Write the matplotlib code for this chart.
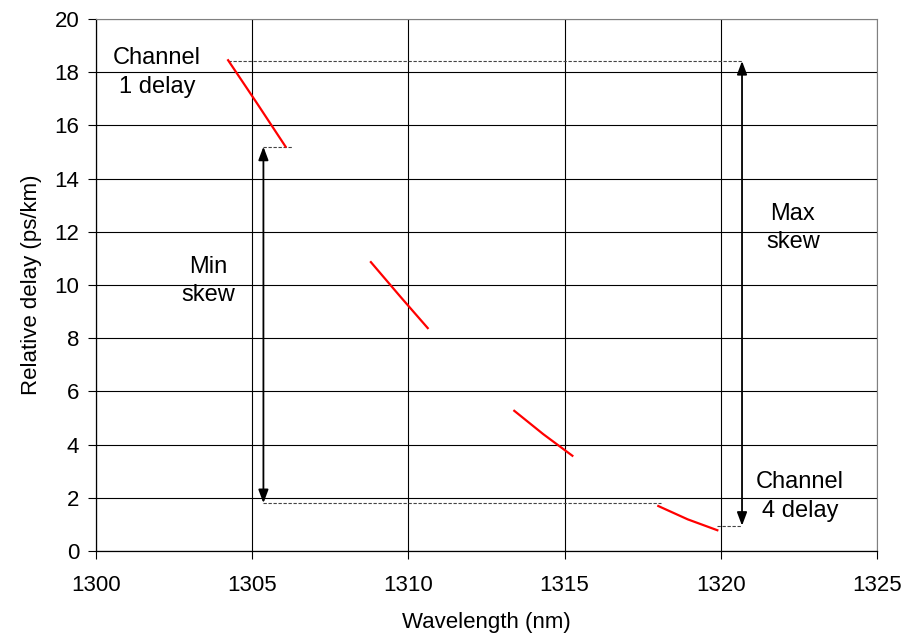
import numpy as np
import matplotlib.pyplot as plt

plt.rcParams['font.family'] = ['Liberation Sans', 'DejaVu Sans']

# wavelength / relative delay of the four channels
ch1_x = [1304.23, 1305.15, 1306.07]
ch1_y = [18.45, 16.84, 15.20]
ch2_x = [1308.80, 1309.73, 1310.62]
ch2_y = [10.86, 9.58, 8.38]
ch3_x = [1313.39, 1314.32, 1315.25]
ch3_y = [5.27, 4.39, 3.58]
ch4_x = [1318.00, 1318.94, 1319.89]
ch4_y = [1.69, 1.19, 0.78]

x_ticks = [1300, 1305, 1310, 1315, 1320, 1325]
y_ticks = [0, 2, 4, 6, 8, 10, 12, 14, 16, 18, 20]

min_skew_x = 1305.36
max_skew_x = 1320.68
min_skew = (1.80, 15.20)
max_skew = (0.95, 18.42)

fig = plt.figure(figsize=(9.21, 6.38), dpi=100)
ax = fig.add_axes([0.1042, 0.1364, 0.8480, 0.8338])

for xs, ys in [(ch1_x, ch1_y), (ch2_x, ch2_y), (ch3_x, ch3_y), (ch4_x, ch4_y)]:
    ax.plot(xs, ys, color='red', lw=1.6, zorder=4)

# dashed guide lines
dash = dict(color='#444444', lw=0.8, linestyle=(0, (3, 1.5)), zorder=3)
ax.plot([ch1_x[0], max_skew_x], [max_skew[1], max_skew[1]], **dash)
ax.plot([min_skew_x, ch1_x[-1] + 0.2], [min_skew[1], min_skew[1]], **dash)
ax.plot([min_skew_x, ch4_x[0] + 0.1], [min_skew[0], min_skew[0]], **dash)
ax.plot([ch4_x[-1], max_skew_x], [max_skew[0], max_skew[0]], **dash)

arrow = dict(arrowstyle='<|-|>,head_length=0.4,head_width=0.15', color='black',
             lw=1.3, mutation_scale=20, shrinkA=0, shrinkB=0)
ax.annotate('', xy=(min_skew_x, min_skew[0]), xytext=(min_skew_x, min_skew[1]),
            arrowprops=arrow, zorder=5)
ax.annotate('', xy=(max_skew_x, max_skew[0]), xytext=(max_skew_x, max_skew[1]),
            arrowprops=arrow, zorder=5)

txt = dict(fontsize=17, ha='center', va='center', linespacing=1.4, zorder=6)
ax.text(1301.95, 18.0, 'Channel\n1 delay', **txt)
ax.text(1303.59, 10.15, 'Min\nskew', **txt)
ax.text(1322.31, 12.14, 'Max\nskew', **txt)
ax.text(1322.54, 2.04, 'Channel\n4 delay', **txt)

ax.set_xlim(1300, 1325)
ax.set_ylim(0, 20)
ax.set_xticks(x_ticks)
ax.set_yticks(y_ticks)
ax.grid(True, color='black', lw=0.8)
ax.set_axisbelow(True)
ax.tick_params(labelsize=16, length=6, width=0.8, direction='out')
ax.tick_params(axis='x', pad=11)
ax.tick_params(axis='y', pad=6)
for s in ['top', 'right']:
    ax.spines[s].set_color('#808080')
for s in ['left', 'bottom']:
    ax.spines[s].set_linewidth(0.9)

ax.set_xlabel('Wavelength (nm)', fontsize=16, labelpad=12)
ax.set_ylabel('Relative delay (ps/km)', fontsize=16, labelpad=9)

fig.savefig('out.png', dpi=100)
